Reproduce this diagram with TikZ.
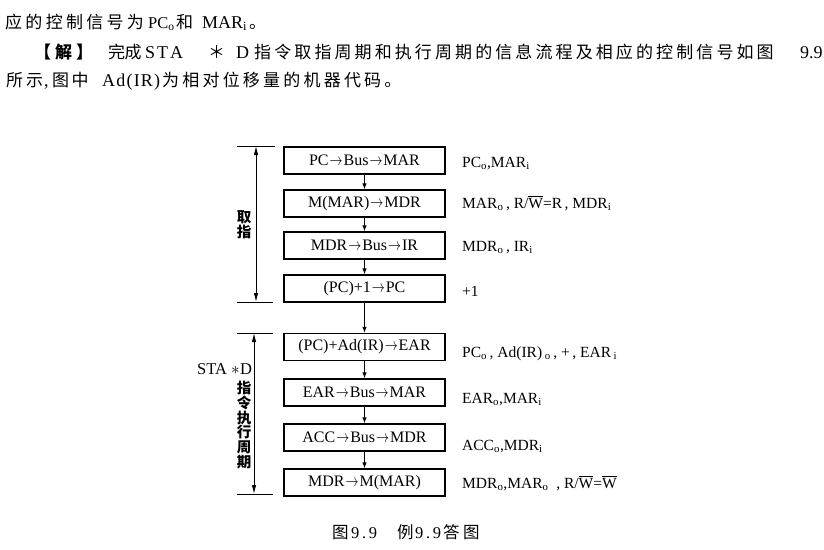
\documentclass[tikz,border=0pt]{standalone}
\usepackage{graphicx}
\usepackage{fontspec}
\setmainfont{Liberation Serif}
\newfontfamily\cjk{Noto Sans CJK SC}
\usetikzlibrary{arrows.meta}
\makeatletter
\newcommand\cjkrun[2]{{\cjk\@tfor\cj@c:=#2\do{\makebox[#1][l]{\cj@c}}}}
\makeatother
\newcommand\ow{$\overline{\mbox{W}}$}
\newcommand\sbo{\textsubscript{o}}
\newcommand\sbi{\textsubscript{i}}
\newcommand\ar{\hspace{1pt}\scalebox{0.75}[1]{$\rightarrow$}\hspace{1pt}}
\begin{document}
\begin{tikzpicture}[x=1pt,y=-1pt,
  txt/.style={anchor=base west, inner sep=0pt, font=\fontsize{17}{19}\selectfont},
  lat/.style={anchor=base west, inner sep=0pt, font=\fontsize{18}{20}\selectfont},
  box/.style={draw, line width=1.3pt, minimum width=161pt, minimum height=27pt, inner sep=0pt, font=\fontsize{16}{18}\selectfont},
  sig/.style={anchor=base west, inner sep=0pt, font=\fontsize{15.5}{18}\selectfont},
  flow/.style={line width=0.9pt, -{Latex[length=6pt,width=4.5pt]}},
  span/.style={line width=0.9pt, {Latex[length=9pt,width=4.5pt]}-{Latex[length=9pt,width=4.5pt]}},
  tick/.style={line width=0.9pt},
  side/.style={inner sep=0pt, font=\fontsize{14.5}{15}\selectfont\cjk\bfseries},
  lab/.style={anchor=base west, inner sep=0pt, font=\fontsize{16.5}{18}\selectfont},
  captxt/.style={anchor=base west, inner sep=0pt, font=\fontsize{16.5}{18}\selectfont}
]
\useasboundingbox (0,0) rectangle (824,549);

% ---- top text ----
\node[txt] (l1a) at (5,28) {\cjkrun{20.3pt}{应的控制信号为}};
\node[lat,font=\fontsize{16.5}{20}\selectfont] (l1b) at (148,28) {PC\textsubscript{o}};
\node[txt] (l1c) at (176,28) {\cjkrun{20pt}{和}};
\node[lat] (l1d) at (202,28) {MAR\textsubscript{i}};
\node[txt] (l1e) at (249,28) {\cjk 。};

\node[txt,font=\fontsize{17}{19}\selectfont\bfseries] (l2a) at (34,58) {\cjkrun{21pt}{【解】}};
\node[txt] (l2b) at (108,58) {\cjkrun{16.5pt}{完成}};
\node[lat] (l2c) at (145,58) {\makebox[38pt][s]{S\hfil T\hfil A}};
\node[txt] (l2d) at (208,58) {\cjk ＊};
\node[lat] (l2e) at (236,58) {D};
\node[txt] (l2f) at (254,58) {\cjkrun{20.1pt}{指令取指周期和执行周期的信息流程及相应的控制信号如图}};
\node[lat] (l2g) at (800,58) {9.9};

\node[txt] (l3a) at (6,86) {\cjkrun{20pt}{所示}};
\node[lat] (l3b) at (44,86) {,};
\node[txt] (l3c) at (52,86) {\cjkrun{19.5pt}{图中}};
\node[lat] (l3d) at (102,86) {\makebox[58pt][s]{A\hfil d\hfil (\hfil I\hfil R\hfil )}};
\node[txt] (l3e) at (162,86) {\cjkrun{20.2pt}{为相对位移量的机器代码。}};

% ---- boxes ----
\node[box] (b1) at (364.5,160.5) {PC\ar Bus\ar MAR};
\node[box] (b2) at (364.5,203.5) {M(MAR)\ar MDR};
\node[box] (b3) at (364.5,245.5) {MDR\ar Bus\ar IR};
\node[box] (b4) at (364.5,288.5) {(PC)+1\ar PC};
\node[box] (b5) at (364.5,347) {(PC)+Ad(IR)\ar EAR};
\node[box] (b6) at (364.5,392.5) {EAR\ar Bus\ar MAR};
\node[box] (b7) at (364.5,437.5) {ACC\ar Bus\ar MDR};
\node[box] (b8) at (364.5,482.5) {MDR\ar M(MAR)};

\foreach \a/\b in {b1/b2,b2/b3,b3/b4,b4/b5,b5/b6,b6/b7,b7/b8}
  \draw[flow] (\a.south) -- (\b.north);

% ---- control signals ----
\node[sig] (s1) at (462,167) {PC\sbo,MAR\sbi};
\node[sig] (s2) at (462,208) {MAR\sbo\,, R/\ow=R\,, MDR\sbi};
\node[sig] (s3) at (462,251) {MDR\sbo\,, IR\sbi};
\node[sig] (s4) at (462,296) {+1};
\node[sig] (s5) at (462,357) {PC\sbo\,, Ad(IR)\,\sbo\,, +\,, EAR\,\sbi};
\node[sig] (s6) at (462,403) {EAR\sbo,MAR\sbi};
\node[sig] (s7) at (462,450) {ACC\sbo,MDR\sbi};
\node[sig] (s8) at (462,488) {MDR\sbo,MAR\sbo\ \ , R/\ow=\ow};

% ---- fetch bracket ----
\coordinate (fa1) at (237,146); \coordinate (fa2) at (275,146);
\coordinate (fb1) at (237,302); \coordinate (fb2) at (273,302);
\coordinate (ft) at (256,146); \coordinate (fb) at (256,302);
\draw[tick] (fa1) -- (fa2);
\draw[tick] (fb1) -- (fb2);
\draw[span] (ft) -- (fb);
\node[side] (q1) at (244,217) {取};
\node[side] (q2) at (244,232) {指};

% ---- execute bracket ----
\coordinate (ea1) at (237,333); \coordinate (ea2) at (273,333);
\coordinate (eb1) at (237,494); \coordinate (eb2) at (273,494);
\coordinate (et) at (254,333); \coordinate (eb) at (254,494);
\draw[tick] (ea1) -- (ea2);
\draw[tick] (eb1) -- (eb2);
\draw[span] (et) -- (eb);
\node[lab] (sa) at (197,374) {STA};
\node[lab] (sb) at (231,374) {$\ast$};
\node[lab] (sc) at (240,374) {D};
\foreach \c [count=\i from 0] in {指,令,执,行,周,期}
  \node[side] (v\i) at (244,388+\i*14.8) {\c};

% ---- caption ----
\node[captxt] (c1) at (332,538) {\cjk 图};
\node[captxt] (c2) at (351,538) {\makebox[26pt][s]{9\hfil .\hfil 9}};
\node[captxt] (c3) at (397,538) {\cjk 例};
\node[captxt] (c4) at (415,538) {\makebox[26pt][s]{9\hfil .\hfil 9}};
\node[captxt] (c5) at (443,538) {\cjk 答};
\node[captxt] (c6) at (463,538) {\cjk 图};
\end{tikzpicture}
\end{document}
